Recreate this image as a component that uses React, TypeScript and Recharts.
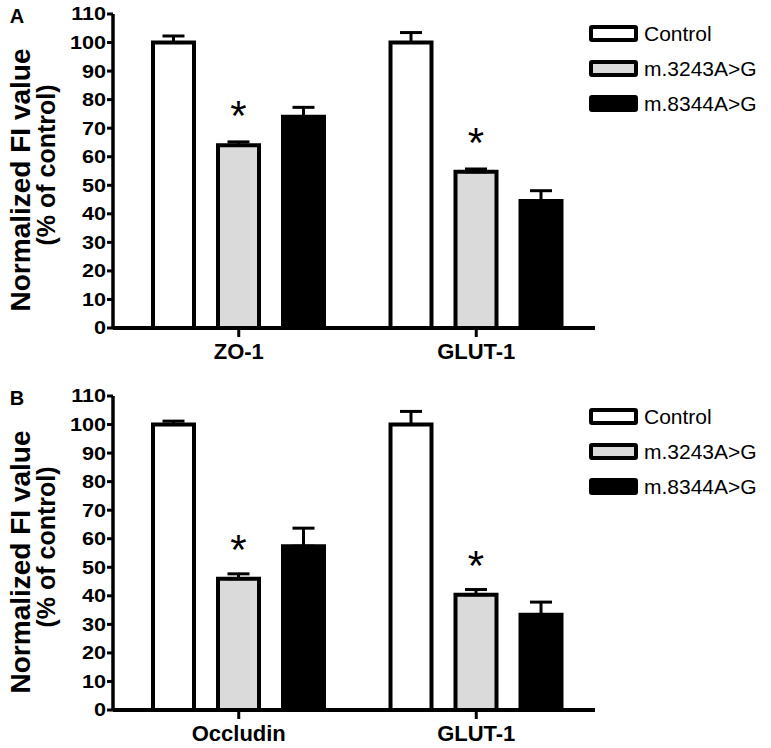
import { BarChart, Bar, XAxis, YAxis, ErrorBar, LabelList, Label } from 'recharts';

const FONT = '"Liberation Sans", Arial, sans-serif';

// shared
const SERIES_NAMES = ['Control', 'm.3243A>G', 'm.8344A>G'];
const SERIES_FILLS = ['#ffffff', '#dadada', '#000000'];
const Y_TICKS = [0, 10, 20, 30, 40, 50, 60, 70, 80, 90, 100, 110];

// panel A
const CATS_A = ['ZO-1', 'GLUT-1'];
const CONTROL_A = [100, 100];
const CONTROL_ERR_A = [2.3, 3.5];
const M3243_A = [64, 54.7];
const M3243_ERR_A = [1.2, 1.0];
const M8344_A = [74, 44.5];
const M8344_ERR_A = [3.3, 3.6];
const SIG_A = ['*', '*'];

// panel B
const CATS_B = ['Occludin', 'GLUT-1'];
const CONTROL_B = [100, 100];
const CONTROL_ERR_B = [1.2, 4.6];
const M3243_B = [46, 40.4];
const M3243_ERR_B = [1.7, 1.8];
const M8344_B = [57.4, 33.4];
const M8344_ERR_B = [6.3, 4.4];
const SIG_B = ['*', '*'];

function buildRows(cats: string[], ctrl: number[], ctrlErr: number[], a: number[], aErr: number[], b: number[], bErr: number[], sig: string[]) {
  // only the upper whisker is drawn, so the lower error is 0
  return cats.map((name, i) => ({
    name,
    control: ctrl[i],
    controlErr: [0, ctrlErr[i]],
    m3243: a[i],
    m3243Err: [0, aErr[i]],
    m8344: b[i],
    m8344Err: [0, bErr[i]],
    sig: sig[i],
  }));
}

const YTick = (props: any) => {
  const { x, y, payload } = props;
  return (
    <text transform={`translate(${x},${y}) scale(1.2,1)`} textAnchor="end" dy="0.36em" fontSize={18} fontWeight="bold" fill="#000" fontFamily={FONT}>
      {payload.value}
    </text>
  );
};

const XTick = (props: any) => {
  const { x, y, payload } = props;
  return (
    <text x={x} y={y} dy={20} textAnchor="middle" fontSize={22} fontWeight="bold" fill="#000" fontFamily={FONT}>
      {payload.value}
    </text>
  );
};

const Star = (props: any) => {
  const { x, y, width, value } = props;
  if (!value) return null;
  return (
    <text x={x + width / 2} y={y - 15} textAnchor="middle" fontSize={42} fill="#000" fontFamily={FONT}>
      {value}
    </text>
  );
};

function Panel({ letter, rows }: { letter: string; rows: any[] }) {
  const yLabel = (props: any) => {
    const vb = props.viewBox || {};
    const mid = vb.y + vb.height / 2;
    return (
      <g fontFamily={FONT} fontWeight="bold" fill="#000">
        <text x={17} y={23} textAnchor="middle" fontSize={20}>{letter}</text>
        <text transform={`translate(30,${mid + 9}) rotate(-90)`} textAnchor="middle" fontSize={28}>Normalized FI value</text>
        <text transform={`translate(55,${mid - 6}) rotate(-90)`} textAnchor="middle" fontSize={25}>(% of control)</text>
      </g>
    );
  };

  return (
    <BarChart width={771} height={374} data={rows} margin={{ top: 14, right: 176, bottom: 6, left: 0 }} barGap={24}>
      <XAxis
        dataKey="name"
        height={40}
        padding={{ left: 7, right: 0 }}
        axisLine={{ stroke: '#000', strokeWidth: 4 }}
        tickLine={{ stroke: '#000', strokeWidth: 3 }}
        tickSize={9}
        tickMargin={2}
        tick={<XTick />}
      />
      <YAxis
        width={113}
        domain={[0, 110]}
        ticks={Y_TICKS}
        interval={0}
        axisLine={{ stroke: '#000', strokeWidth: 3.5 }}
        tickLine={{ stroke: '#000', strokeWidth: 3 }}
        tickSize={6}
        tickMargin={1}
        tick={<YTick />}
      >
        <Label content={yLabel} />
      </YAxis>
      <Bar dataKey="control" name={SERIES_NAMES[0]} fill={SERIES_FILLS[0]} stroke="#000" strokeWidth={4} barSize={41} isAnimationActive={false}>
        <ErrorBar dataKey="controlErr" direction="y" width={11} stroke="#000" strokeWidth={3} />
      </Bar>
      <Bar dataKey="m3243" name={SERIES_NAMES[1]} fill={SERIES_FILLS[1]} stroke="#000" strokeWidth={4} barSize={41} isAnimationActive={false}>
        <ErrorBar dataKey="m3243Err" direction="y" width={11} stroke="#000" strokeWidth={3} />
        <LabelList dataKey="sig" content={<Star />} />
      </Bar>
      <Bar dataKey="m8344" name={SERIES_NAMES[2]} fill={SERIES_FILLS[2]} stroke="#000" strokeWidth={4} barSize={41} isAnimationActive={false}>
        <ErrorBar dataKey="m8344Err" direction="y" width={11} stroke="#000" strokeWidth={3} />
      </Bar>
    </BarChart>
  );
}

function Legend({ top }: { top: number }) {
  return (
    <div style={{ position: 'absolute', left: 589, top, fontFamily: FONT }}>
      {SERIES_NAMES.map((name, i) => (
        <div key={name} style={{ display: 'flex', alignItems: 'center', height: 35 }}>
          <div style={{ width: 49, height: 17, boxSizing: 'border-box', border: '4px solid #000', borderRadius: 3, background: SERIES_FILLS[i] }} />
          <span style={{ marginLeft: 6, fontSize: 21, color: '#000', whiteSpace: 'nowrap' }}>{name}</span>
        </div>
      ))}
    </div>
  );
}

export default function App() {
  const rowsA = buildRows(CATS_A, CONTROL_A, CONTROL_ERR_A, M3243_A, M3243_ERR_A, M8344_A, M8344_ERR_A, SIG_A);
  const rowsB = buildRows(CATS_B, CONTROL_B, CONTROL_ERR_B, M3243_B, M3243_ERR_B, M8344_B, M8344_ERR_B, SIG_B);
  return (
    <div style={{ position: 'absolute', left: 0, top: 0, width: 771, height: 748, background: '#fff', overflow: 'hidden' }}>
      <div style={{ position: 'absolute', left: 0, top: 0 }}>
        <Panel letter="A" rows={rowsA} />
      </div>
      <Legend top={16} />
      <div style={{ position: 'absolute', left: 0, top: 382 }}>
        <Panel letter="B" rows={rowsB} />
      </div>
      <Legend top={399} />
    </div>
  );
}
